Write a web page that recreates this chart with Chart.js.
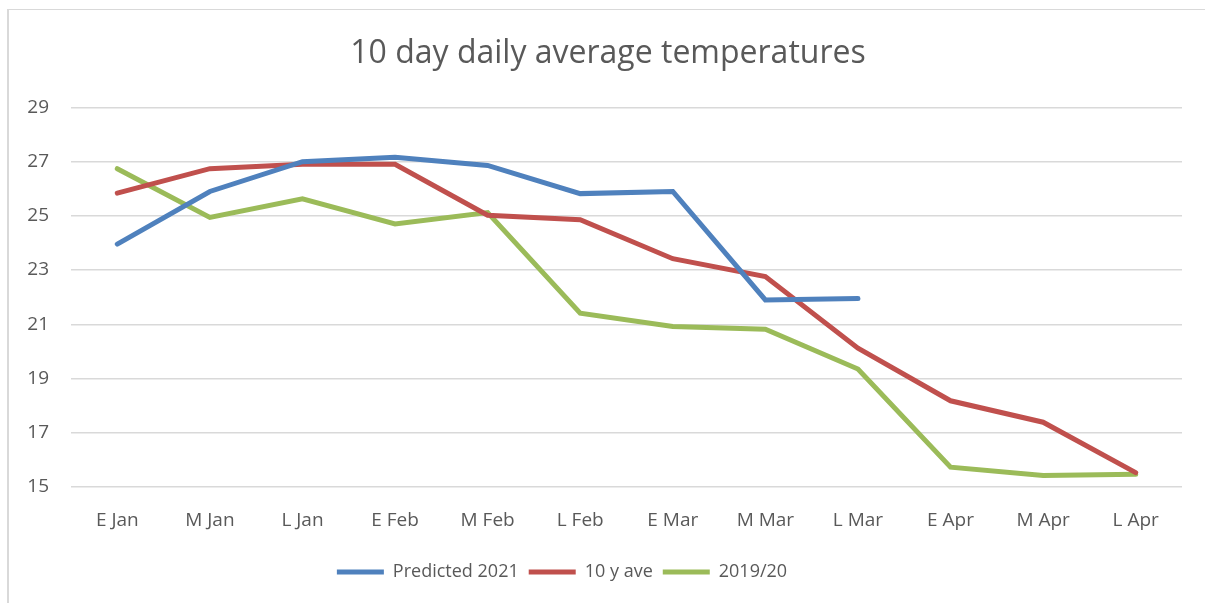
<!DOCTYPE html>
<html>
<head>
<meta charset="utf-8">
<script src="https://cdn.jsdelivr.net/npm/chart.js@4"></script>
<style>
  html, body { margin: 0; padding: 0; background: #fff; }
  #wrap { position: relative; width: 1205px; height: 603px; overflow: hidden; }
  #frame { position: absolute; left: 7px; top: 9px; width: 1300px; height: 700px; border: 1px solid #d9d9d9; border-left-width: 2px; }
  canvas { position: absolute; left: 0; top: 0; }
</style>
</head>
<body>
<div id="wrap">
  <div id="frame"></div>
  <canvas id="chart" width="1205" height="603"></canvas>
</div>
<script>
const categories = ['E Jan', 'M Jan', 'L Jan', 'E Feb', 'M Feb', 'L Feb', 'E Mar', 'M Mar', 'L Mar', 'E Apr', 'M Apr', 'L Apr'];
const predicted2021 = [23.96, 25.9, 27.0, 27.16, 26.86, 25.82, 25.9, 21.9, 21.95, null, null, null];
const tenYearAve = [25.84, 26.74, 26.9, 26.9, 25.02, 24.86, 23.42, 22.76, 20.12, 18.18, 17.39, 15.53];
const season1920 = [26.74, 24.94, 25.63, 24.7, 25.12, 21.41, 20.92, 20.82, 19.35, 15.73, 15.42, 15.47];
const yTicks = [15, 17, 19, 21, 23, 25, 27, 29];

const FONT = "'Open Sans', 'Liberation Sans', sans-serif";
const textColor = '#595959';

const ctx = document.getElementById('chart');

const mkSet = (label, data, color) => ({
  label: label,
  data: data,
  borderColor: color,
  backgroundColor: color,
  borderWidth: 5,
  pointRadius: 0,
  pointHoverRadius: 0,
  tension: 0,
  spanGaps: false,
  borderCapStyle: 'round'
});

// excel puts the title a little right and the legend a little left of centre
const nudgeBoxes = {
  id: 'nudgeBoxes',
  beforeDraw(chart) {
    const lg = chart.legend;
    if (lg && !lg._moved) {
      lg.left -= 29;
      lg.right -= 29;
      lg._moved = true;
    }
    const tb = chart.titleBlock;
    if (tb && !tb._moved) {
      tb.left += 17;
      tb.right += 17;
      tb._moved = true;
    }
  }
};

new Chart(ctx, {
  type: 'line',
  data: {
    labels: categories,
    datasets: [
      mkSet('Predicted 2021', predicted2021, '#4f81bd'),
      mkSet('10 y ave', tenYearAve, '#c0504d'),
      mkSet('2019/20', season1920, '#9bbb59')
    ]
  },
  plugins: [nudgeBoxes],
  options: {
    responsive: false,
    animation: false,
    layout: { padding: { top: 10, left: 0, right: 23, bottom: 12 } },
    plugins: {
      title: {
        display: true,
        text: '10 day daily average temperatures',
        color: textColor,
        font: { family: FONT, size: 32, weight: 'normal' },
        padding: { top: 25, bottom: 34 }
      },
      legend: {
        position: 'bottom',
        labels: {
          color: textColor,
          font: { family: FONT, size: 18 },
          boxWidth: 47,
          boxHeight: 5,
          padding: 10,
          generateLabels(chart) {
            return chart.data.datasets.map((ds, i) => ({
              text: ds.label,
              fillStyle: ds.borderColor,
              strokeStyle: ds.borderColor,
              lineWidth: 0,
              fontColor: textColor,
              datasetIndex: i
            }));
          }
        }
      },
      tooltip: { enabled: false }
    },
    scales: {
      x: {
        offset: true,
        grid: { display: false, drawTicks: false },
        border: { display: false },
        ticks: { color: textColor, font: { family: FONT, size: 19 }, padding: 22, maxRotation: 0 },
        afterFit(scale) { scale.height = 66; }
      },
      y: {
        min: 15,
        max: 29,
        afterBuildTicks(scale) { scale.ticks = yTicks.map(v => ({ value: v })); },
        grid: { color: '#d9d9d9', lineWidth: 1.5, drawTicks: false },
        border: { display: false },
        ticks: { color: textColor, font: { family: FONT, size: 19 }, padding: 22 },
        afterFit(scale) { scale.width = 71; }
      }
    }
  }
});
</script>
</body>
</html>
